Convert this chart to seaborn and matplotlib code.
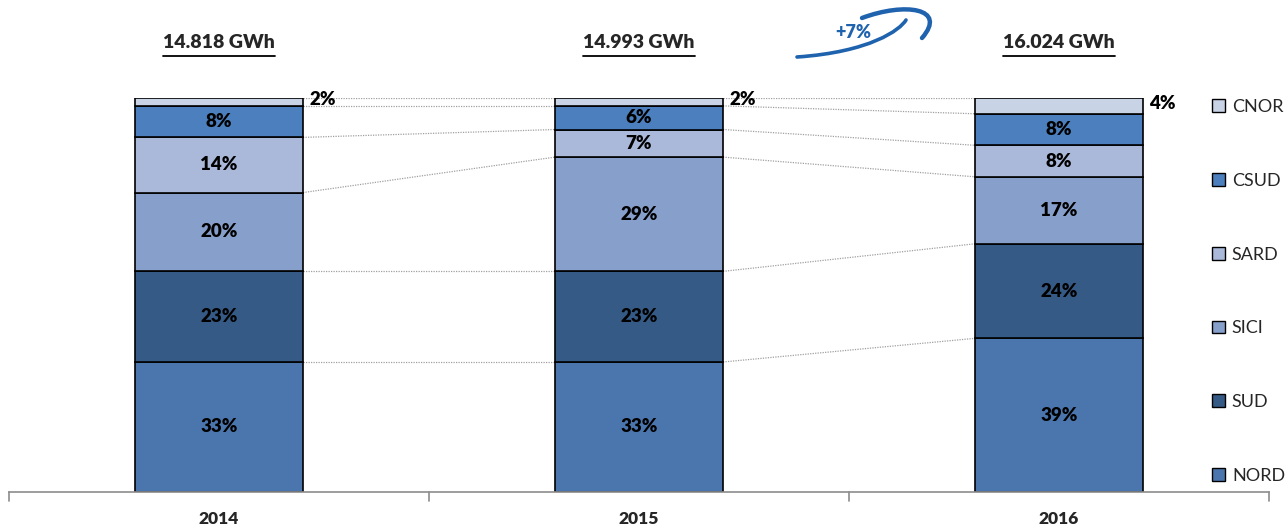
import matplotlib
matplotlib.use("Agg")
import matplotlib.pyplot as plt
import seaborn as sns
import numpy as np
from matplotlib.lines import Line2D
from matplotlib.patches import Patch, PathPatch
from matplotlib.path import Path

years = ["2014", "2015", "2016"]
totals = ["14.818 GWh", "14.993 GWh", "16.024 GWh"]
zones = ["NORD", "SUD", "SICI", "SARD", "CSUD", "CNOR"]
nord = [33, 33, 39]
sud = [23, 23, 24]
sici = [20, 29, 17]
sard = [14, 7, 8]
csud = [8, 6, 8]
cnor = [2, 2, 4]
growth_label = "+7%"

shares = [nord, sud, sici, sard, csud, cnor]
colors = ["#4a76ad", "#355a85", "#87a0cb", "#aab9d9", "#4b7fbd", "#c9d3e6"]

sns.set_theme(style="white")
plt.rcParams["font.family"] = ["Lato", "DejaVu Sans"]
BOLD = "heavy"

W, H = 1286, 526
fig = plt.figure(figsize=(W / 100, H / 100), dpi=100)
ax = fig.add_axes([9 / W, 1 - 492 / H, (1269 - 9) / W, (492 - 98) / H])

bottoms = np.zeros(len(years))
for zone, vals, col in zip(zones, shares, colors):
    sns.barplot(x=years, y=vals, bottom=bottoms, color=col, width=0.4,
                edgecolor="black", linewidth=1.2, ax=ax, saturation=1)
    for i, v in enumerate(vals):
        if v >= 5:
            ax.text(i, bottoms[i] + v / 2, f"{v}%", ha="center", va="center",
                    fontsize=13.5, fontweight=BOLD, color="black")
        else:
            ax.text(i + 0.215, bottoms[i] + v / 2 + 0.6, f"{v}%", ha="left",
                    va="center", fontsize=13.5, fontweight=BOLD, color="black")
    bottoms = bottoms + np.array(vals)

# dotted connectors between segment boundaries of neighbouring bars
cum = np.cumsum(np.array(shares), axis=0)
for level in cum:
    for i in range(len(years) - 1):
        ax.plot([i + 0.2, i + 0.8], [level[i], level[i + 1]], linestyle=(0, (1, 1)),
                color="#a0a0a0", linewidth=0.9, zorder=0)

ax.set_xlim(-0.5, 2.5)
ax.set_ylim(0, 100)
ax.set_yticks([])
ax.set_xlabel("")
ax.set_ylabel("")
for s in ["top", "right", "left"]:
    ax.spines[s].set_visible(False)
ax.spines["bottom"].set_color("#8c8c8c")
ax.spines["bottom"].set_linewidth(1.2)
ax.set_xticks([0, 1, 2])
ax.set_xticklabels(years, fontsize=12.5, fontweight=BOLD)
ax.tick_params(axis="x", length=0, pad=14)
for b in [-0.5, 0.5, 1.5, 2.5]:
    ax.plot([b, b], [0, -2.2], color="#8c8c8c", linewidth=1.2, clip_on=False)

# legend, top entry first
handles = [Patch(facecolor=c, edgecolor="black", linewidth=1.0) for c in colors][::-1]
leg = fig.legend(handles, zones[::-1], loc="upper left",
                 bbox_to_anchor=(1203 / W, 1 - 90 / H), frameon=False,
                 fontsize=13, labelspacing=3.2, handlelength=0.7,
                 handleheight=0.7, handletextpad=0.4, borderpad=0)

# totals above the bars, underlined
fig.canvas.draw()
renderer = fig.canvas.get_renderer()
for i, t in enumerate(totals):
    xc = ax.transData.transform((i, 0))[0]
    txt = fig.text(xc / W, 1 - 43 / H, t, ha="center", va="center",
                   fontsize=14, fontweight=BOLD)
    bb = txt.get_window_extent(renderer)
    fig.add_artist(Line2D([bb.x0 / W, bb.x1 / W], [(H - 56) / H, (H - 56) / H],
                          color="black", linewidth=1.3, transform=fig.transFigure))

# growth swoosh
blue = "#1f62ad"
def px(x, y):
    return (x / W, 1 - y / H)

lower = Path([px(797, 57), px(870, 52), px(900, 30), px(906, 20)],
             [Path.MOVETO, Path.CURVE4, Path.CURVE4, Path.CURVE4])
upper = Path([px(862, 18), px(905, 2), px(948, 8), px(922, 38)],
             [Path.MOVETO, Path.CURVE4, Path.CURVE4, Path.CURVE4])
for p, lw in [(lower, 2.6), (upper, 3.2)]:
    fig.add_artist(PathPatch(p, facecolor="none", edgecolor=blue, linewidth=lw,
                             transform=fig.transFigure, capstyle="round"))
fig.text(853 / W, 1 - 32 / H, growth_label, ha="center", va="center",
         fontsize=13, fontweight=BOLD, color=blue)

fig.savefig("out.png", dpi=100)
